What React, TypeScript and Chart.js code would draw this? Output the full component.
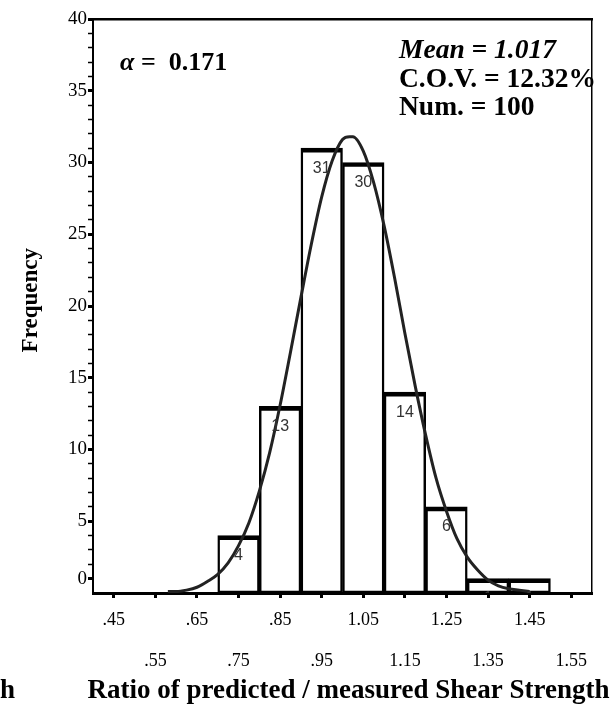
import React, { useEffect, useRef } from 'react';
import { Chart, registerables } from 'chart.js';

Chart.register(...registerables);

// Histogram bins (centres) and counts
const binCenters = [0.75, 0.85, 0.95, 1.05, 1.15, 1.25, 1.35, 1.45];
const frequencies = [4, 13, 31, 30, 14, 6, 1, 1];

// Fitted curve
const curveX = [0.58, 0.6, 0.625, 0.65, 0.675, 0.7, 0.725, 0.75, 0.775, 0.8, 0.825, 0.85, 0.875, 0.9, 0.925, 0.95, 0.975, 1.0, 1.017, 1.025, 1.05, 1.075, 1.1, 1.125, 1.15, 1.175, 1.2, 1.225, 1.25, 1.275, 1.3, 1.325, 1.35, 1.375, 1.4, 1.425, 1.45];
const curveY = [0.1, 0.1, 0.2, 0.4, 0.8, 1.3, 2.1, 3.3, 4.9, 7.1, 9.8, 13.1, 16.8, 20.6, 24.3, 27.6, 30.1, 31.6, 31.8, 31.8, 30.8, 28.6, 25.6, 22.0, 18.1, 14.4, 11.0, 8.0, 5.7, 3.8, 2.5, 1.6, 0.9, 0.5, 0.3, 0.2, 0.1];

// Axis ticks
const xTickValues = [0.45, 0.55, 0.65, 0.75, 0.85, 0.95, 1.05, 1.15, 1.25, 1.35, 1.45, 1.55];
const xTickLabels = ['.45', '.55', '.65', '.75', '.85', '.95', '1.05', '1.15', '1.25', '1.35', '1.45', '1.55'];
const yMinorTickValues = [1, 2, 3, 4, 5, 6, 7, 8, 9, 10, 11, 12, 13, 14, 15, 16, 17, 18, 19, 20, 21, 22, 23, 24, 25, 26, 27, 28, 29, 30, 31, 32, 33, 34, 35, 36, 37, 38, 39, 40];
const yLabelValues = [1, 5, 10, 15, 20, 25, 30, 35, 40];
const yLabelTexts = ['0', '5', '10', '15', '20', '25', '30', '35', '40'];

// Texts
const xTitle = 'Ratio of predicted / measured Shear Strength';
const yTitle = '  Frequency';
const alphaValue = '0.171';
const meanText = 'Mean = 1.017';
const covText = 'C.O.V. = 12.32%';
const numText = 'Num. = 100';
const neighbourFragment = 'h';

const SERIF = '"Liberation Serif", "Times New Roman", serif';
const SANS = '"Liberation Sans", Arial, sans-serif';

const barLabelPlugin = {
  id: 'barLabels',
  afterDatasetsDraw(chart: any) {
    const meta = chart.getDatasetMeta(0);
    const area = chart.chartArea;
    const ctx = chart.ctx;
    ctx.save();
    ctx.beginPath();
    ctx.rect(area.left, area.top, area.right - area.left, area.bottom - area.top);
    ctx.clip();
    ctx.font = '16px ' + SANS;
    ctx.fillStyle = '#333';
    ctx.textAlign = 'center';
    ctx.textBaseline = 'middle';
    meta.data.forEach((el: any, i: number) => {
      ctx.fillText(String(frequencies[i]), el.x, el.y + 20);
    });
    ctx.restore();
  },
};

const textPlugin = {
  id: 'statTexts',
  afterDraw(chart: any) {
    const ctx = chart.ctx;
    const a = chart.chartArea;
    ctx.save();
    ctx.fillStyle = '#000';
    ctx.textAlign = 'left';
    ctx.textBaseline = 'alphabetic';
    // alpha
    ctx.font = 'italic bold 26px ' + SERIF;
    const ax = a.left + 27;
    ctx.fillText('\u03B1', ax, 70);
    const aw = ctx.measureText('\u03B1').width;
    ctx.font = 'bold 26px ' + SERIF;
    ctx.fillText(' =  ' + alphaValue, ax + aw, 70);
    // stats
    ctx.font = 'italic bold 27.5px ' + SERIF;
    ctx.fillText(meanText, 399, 58);
    ctx.font = 'bold 27.5px ' + SERIF;
    ctx.fillText(covText, 399, 87);
    ctx.fillText(numText, 399, 115);
    // x-axis title (wider than the plot area, as in the original)
    ctx.font = 'bold 27px ' + SERIF;
    ctx.textAlign = 'center';
    ctx.fillText(xTitle, 348.5, 698);
    // fragment of neighbouring panel title
    ctx.textAlign = 'left';
    ctx.fillText(neighbourFragment, 0, 698);
    ctx.restore();
  },
};

export default function App() {
  const ref = useRef<HTMLCanvasElement>(null);
  useEffect(() => {
    document.body.style.margin = '0';
    const canvas = ref.current;
    if (!canvas) return;
    const chart = new Chart(canvas, {
      type: 'bar',
      data: {
        datasets: [
          {
            type: 'bar',
            data: binCenters.map((x, i) => ({ x, y: frequencies[i] })),
            backgroundColor: 'rgba(0,0,0,0)',
            borderColor: '#000',
            borderWidth: { top: 4, left: 1.8, right: 1.8, bottom: 2 },
            borderSkipped: false,
            barPercentage: 1,
            categoryPercentage: 1,
            order: 2,
          } as any,
          {
            type: 'line',
            data: curveX.map((x, i) => ({ x, y: curveY[i] })),
            borderColor: '#222',
            borderWidth: 3,
            pointRadius: 0,
            cubicInterpolationMode: 'monotone',
            fill: false,
            order: 1,
          } as any,
        ],
      },
      options: {
        responsive: false,
        animation: false,
        layout: { padding: { left: 0, right: 19, top: 19, bottom: 0 } },
        plugins: { legend: { display: false }, tooltip: { enabled: false } },
        scales: {
          x: {
            type: 'linear',
            position: 'bottom',
            offset: false,
            min: 0.4,
            max: 1.6,
            afterBuildTicks: (scale: any) => {
              scale.ticks = xTickValues.map((v) => ({ value: v }));
            },
            afterFit: (scale: any) => {
              scale.height = 113;
            },
            ticks: {
              autoSkip: false,
              maxRotation: 0,
              padding: 2,
              color: '#000',
              font: { family: SERIF, size: 18, lineHeight: 2.28 },
              callback: (value: any, index: number) =>
                index % 2 === 0 ? [xTickLabels[index]] : ['', xTickLabels[index]],
            },
            grid: {
              offset: false,
              drawOnChartArea: false,
              drawTicks: true,
              tickLength: 5,
              tickWidth: 3,
              tickColor: '#000',
            },
            border: { display: true, color: '#000', width: 3 },
            title: { display: false },
          },
          y: {
            type: 'linear',
            position: 'left',
            min: 0,
            max: 40,
            afterBuildTicks: (scale: any) => {
              scale.ticks = yMinorTickValues.map((v) => ({ value: v }));
            },
            afterFit: (scale: any) => {
              scale.width = 93;
            },
            ticks: {
              autoSkip: false,
              padding: 1,
              color: '#000',
              font: { family: SERIF, size: 19 },
              callback: (value: any) => {
                const k = yLabelValues.indexOf(value);
                return k >= 0 ? yLabelTexts[k] : '';
              },
            },
            grid: {
              drawOnChartArea: false,
              drawTicks: true,
              tickLength: 5,
              tickWidth: (ctx: any) => (ctx.tick && yLabelValues.indexOf(ctx.tick.value) >= 0 ? 3 : 1.5),
              tickColor: '#000',
            },
            border: { display: true, color: '#000', width: 2 },
            title: {
              display: true,
              text: yTitle,
              color: '#000',
              font: { family: SERIF, size: 23, weight: 'bold' },
              padding: { top: 17, bottom: 0 },
            },
          },
          xTop: {
            type: 'linear',
            position: 'top',
            min: 0.4,
            max: 1.6,
            ticks: { display: false },
            grid: { display: false, drawTicks: false },
            border: { display: true, color: '#000', width: 2.5 },
          },
          yRight: {
            type: 'linear',
            position: 'right',
            min: 0,
            max: 40,
            ticks: { display: false },
            grid: { display: false, drawTicks: false },
            border: { display: true, color: '#000', width: 1.5 },
          },
        },
      } as any,
      plugins: [barLabelPlugin, textPlugin],
    });
    return () => chart.destroy();
  }, []);
  return (
    <div style={{ width: 611, height: 706 }}>
      <canvas ref={ref} width={611} height={706} style={{ display: 'block' }} />
    </div>
  );
}
